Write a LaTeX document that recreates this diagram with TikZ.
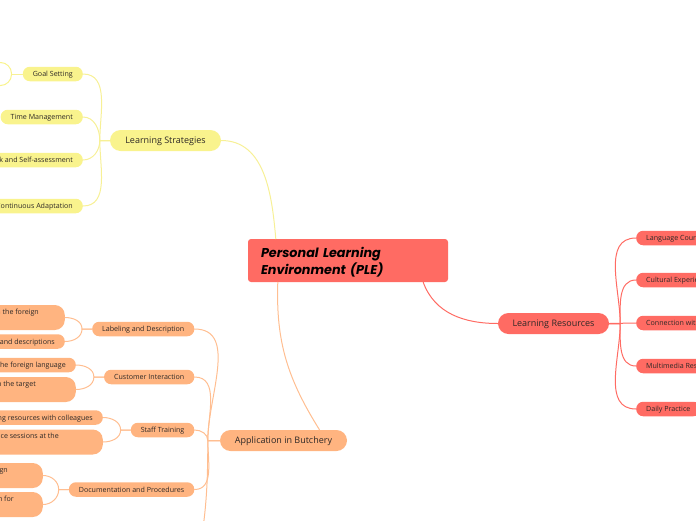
\documentclass[tikz,border=0pt]{standalone}
\usepackage{fontspec}
\setmainfont{Open Sans}
\newfontfamily\titlefont{Poppins}
\usetikzlibrary{positioning}
\definecolor{pleRed}{RGB}{255,107,99}
\definecolor{pleYellow}{RGB}{249,243,141}
\definecolor{pleYellowLine}{RGB}{247,240,150}
\definecolor{pleOrange}{RGB}{255,180,128}
\definecolor{pleOrangeLine}{RGB}{255,190,145}
\definecolor{pleText}{RGB}{45,40,38}

\begin{document}
\begin{tikzpicture}[x=1pt,y=-1pt,line cap=round,line join=round,
  ple/.style={fill=pleRed,rounded corners=3pt,minimum width=200pt,minimum height=43pt,
    text width=174pt,align=left,inner xsep=13pt,text=black,text depth=17pt,
    font=\fontsize{12.8}{17}\selectfont\titlefont\bfseries\itshape},
  topic/.style={rounded corners=10.5pt,minimum height=21pt,inner xsep=0pt,inner ysep=0pt,
    text depth=0pt,text=pleText,font=\fontsize{9}{11}\selectfont},
  sub/.style={rounded corners=7pt,minimum height=14.5pt,inner xsep=10pt,inner ysep=0pt,
    text depth=0pt,text=pleText,font=\fontsize{7.1}{8}\selectfont},
  subtall/.style={sub,minimum height=25pt,rounded corners=10pt,align=left,
    font=\fontsize{7.1}{12}\selectfont},
  ylink/.style={draw=pleYellowLine,line width=1pt},
  rlink/.style={draw=pleRed,line width=1pt},
  olink/.style={draw=pleOrangeLine,line width=1pt}]
\useasboundingbox (0,0) rectangle (696,520);
\clip (0,0) rectangle (696,520);
% Centralny temat i trzy gałęzie główne.
\node[ple] (ple) at (348,260.5) {Personal Learning\\Environment (PLE)};
\node[topic,fill=pleYellow,minimum width=111pt] (strat) at (165.5,140.5) {Learning Strategies};
\node[topic,fill=pleRed,minimum width=111pt] (res) at (553.5,323.5) {Learning Resources};
\node[topic,fill=pleOrange,minimum width=127pt] (app) at (283.5,440.5) {Application in Butchery};
\draw[ylink] ([xshift=28pt]ple.north west) to[out=95,in=0] (strat.east);
\draw[rlink] ([xshift=-25pt]ple.south east) to[out=-70,in=180] (res.west);
\draw[olink] ([xshift=30pt]ple.south west) to[out=-92,in=122] ([xshift=36pt]app.north);
% Learning Strategies
\node[sub,fill=pleYellow,anchor=east] (goal) at (83,74) {Goal Setting};
\node[sub,fill=pleYellow,anchor=east] (time) at (83,117) {Time Management};
\node[sub,fill=pleYellow,anchor=east] (feed) at (83,160) {Feedback and Self-assessment};
\node[sub,fill=pleYellow,anchor=east] (adapt) at (83,206) {Continuous Adaptation};
\node[draw=pleYellow,fill=white,line width=1pt,rounded corners=11pt,minimum width=60pt,
  minimum height=23pt,anchor=east] (goalnote) at (12,74) {};
\draw[ylink] (strat.west) -- ++(-10,0) to[out=90,in=0] (goal.east);
\draw[ylink] (strat.west) -- ++(-10,0) to[out=90,in=0] (time.east);
\draw[ylink] (strat.west) -- ++(-10,0) to[out=-90,in=0] (feed.east);
\draw[ylink] (strat.west) -- ++(-10,0) to[out=-90,in=0] (adapt.east);
\draw[ylink] (goal.west) -- (goalnote.east);
% Learning Resources
\node[sub,fill=pleRed,anchor=west] (course) at (636,238) {Language Courses};
\node[sub,fill=pleRed,anchor=west] (culture) at (636,280) {Cultural Experiences};
\node[sub,fill=pleRed,anchor=west] (native) at (636,323) {Connection with Native Speakers};
\node[sub,fill=pleRed,anchor=west] (media) at (636,366) {Multimedia Resources};
\node[sub,fill=pleRed,anchor=west] (daily) at (636,409) {Daily Practice};
\draw[rlink] (res.east) -- ++(11,0) to[out=90,in=180] (course.west);
\draw[rlink] (res.east) -- ++(11,0) to[out=90,in=180] (culture.west);
\draw[rlink] (res.east) -- (native.west);
\draw[rlink] (res.east) -- ++(11,0) to[out=-90,in=180] (media.west);
\draw[rlink] (res.east) -- ++(11,0) to[out=-90,in=180] (daily.west);
% Application in Butchery
\node[sub,fill=pleOrange,anchor=east] (label) at (194.5,329) {Labeling and Description};
\node[sub,fill=pleOrange,anchor=east] (cust) at (194.5,377) {Customer Interaction};
\node[sub,fill=pleOrange,anchor=east] (staff) at (194.5,430) {Staff Training};
\node[sub,fill=pleOrange,anchor=east] (docs) at (194.5,489.5) {Documentation and Procedures};
\coordinate (appmore) at (198,560);
\draw[olink] (app.west) -- ++(-12,0) to[out=90,in=0] (label.east);
\draw[olink] (app.west) -- ++(-12,0) to[out=90,in=0] (cust.east);
\draw[olink] (app.west) -- ++(-12,0) to[out=90,in=0] (staff.east);
\draw[olink] (app.west) -- ++(-12,0) to[out=-90,in=0] (docs.east);
\draw[olink] (app.west) -- ++(-12,0) to[out=-90,in=80] (appmore);
\node[subtall,fill=pleOrange,anchor=east] (label1) at (65,317.5)
  {Labeling products in the foreign\hspace*{16pt}\\language};
\node[sub,fill=pleOrange,anchor=east] (label2) at (65,341.5)
  {Using foreign terms for labels and descriptions};
\node[sub,fill=pleOrange,anchor=east] (cust1) at (76,365)
  {Serving customers in the foreign language};
\node[subtall,fill=pleOrange,anchor=east] (cust2) at (76,389.5)
  {Explaining products in the target\hspace*{30pt}\\language};
\node[sub,fill=pleOrange,anchor=east] (staff1) at (103,417.5)
  {Sharing learning resources with colleagues};
\node[subtall,fill=pleOrange,anchor=east] (staff2) at (103,442)
  {Organizing practice sessions at the\hspace*{34pt}\\workplace};
\node[subtall,fill=pleOrange,anchor=east] (docs1) at (43,475.5)
  {Writing recipes in a foreign\hspace*{25pt}\\language};
\node[subtall,fill=pleOrange,anchor=east] (docs2) at (43,504.5)
  {Creating documentation for\hspace*{19pt}\\staff};
\draw[olink] (label.west) -- ++(-10,0) to[out=90,in=0] (label1.east);
\draw[olink] (label.west) -- ++(-10,0) to[out=-90,in=0] (label2.east);
\draw[olink] (cust.west) -- ++(-10,0) to[out=90,in=0] (cust1.east);
\draw[olink] (cust.west) -- ++(-10,0) to[out=-90,in=0] (cust2.east);
\draw[olink] (staff.west) -- ++(-10,0) to[out=90,in=0] (staff1.east);
\draw[olink] (staff.west) -- ++(-10,0) to[out=-90,in=0] (staff2.east);
\draw[olink] (docs.west) -- ++(-10,0) to[out=90,in=0] (docs1.east);
\draw[olink] (docs.west) -- ++(-10,0) to[out=-90,in=0] (docs2.east);
\end{tikzpicture}
\end{document}
